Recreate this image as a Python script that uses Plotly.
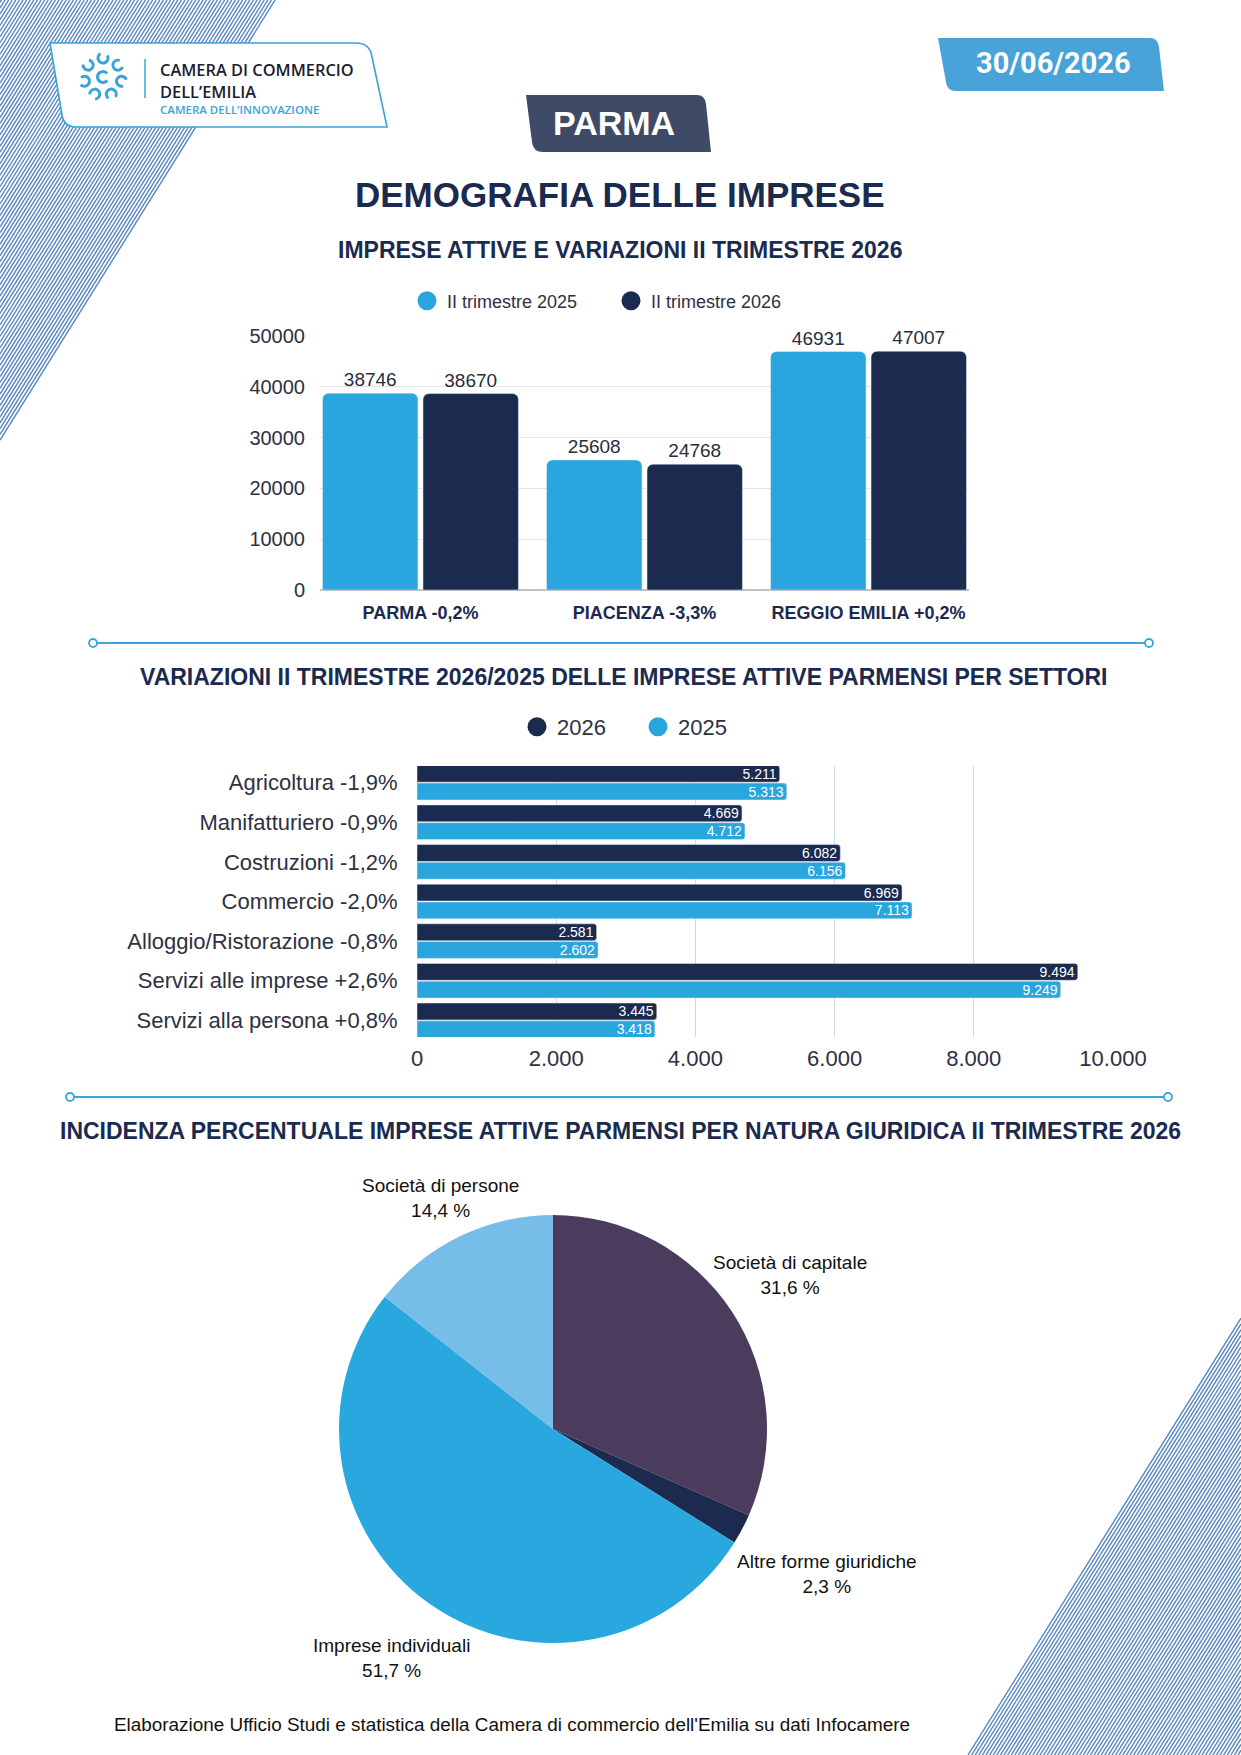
import math
import plotly.graph_objects as go

# page size in px (the figure is drawn on a fixed A4-like canvas)
W, H = 1241, 1755

# --- data ---
province_labels = ["PARMA -0,2%", "PIACENZA -3,3%", "REGGIO EMILIA +0,2%"]
imprese_2025 = [38746, 25608, 46931]
imprese_2026 = [38670, 24768, 47007]

settori = [
    "Agricoltura -1,9%",
    "Manifatturiero -0,9%",
    "Costruzioni -1,2%",
    "Commercio -2,0%",
    "Alloggio/Ristorazione -0,8%",
    "Servizi alle imprese +2,6%",
    "Servizi alla persona +0,8%",
]
settori_2026 = [5211, 4669, 6082, 6969, 2581, 9494, 3445]
settori_2025 = [5313, 4712, 6156, 7113, 2602, 9249, 3418]

forme = ["Società di capitale", "Altre forme giuridiche", "Imprese individuali", "Società di persone"]
quote = [31.6, 2.3, 51.7, 14.4]

# --- colours ---
LIGHT = "#29a6de"
DARK = "#1b2a4f"
NAVY_TXT = "#1b2a4f"
AXIS_TXT = "#2d3142"
ACCENT = "#3aa3d9"
FONT = "Liberation Sans, Arial, sans-serif"

# pie placement (px) and how far out each label sits (in radii)
PIE_CX, PIE_CY, PIE_R = 553, 1429, 214
label_dist = [1.32, 1.45, 1.31, 1.20]


def px(x):
    return x / W


def py(y):
    return 1 - y / H


def pt(x, y):
    return f"{px(x):.5f},{py(y):.5f}"


def arc(cx, cy, r, a0, a1):
    # cubic bezier approximation of a circular arc, angles in degrees
    n = max(1, math.ceil(abs(a1 - a0) / 90))
    step = (a1 - a0) / n
    out = f"M{pt(cx + r * math.cos(math.radians(a0)), cy + r * math.sin(math.radians(a0)))}"
    for i in range(n):
        t0 = math.radians(a0 + i * step)
        t1 = math.radians(a0 + (i + 1) * step)
        k = 4 / 3 * math.tan((t1 - t0) / 4) * r
        p0 = (cx + r * math.cos(t0), cy + r * math.sin(t0))
        p3 = (cx + r * math.cos(t1), cy + r * math.sin(t1))
        p1 = (p0[0] - k * math.sin(t0), p0[1] + k * math.cos(t0))
        p2 = (p3[0] + k * math.sin(t1), p3[1] - k * math.cos(t1))
        out += f"C{pt(*p1)} {pt(*p2)} {pt(*p3)}"
    return out


fig = go.Figure()

# --- chart 1: imprese attive ---
fig.add_trace(go.Bar(
    x=province_labels, y=imprese_2025, name="II trimestre 2025",
    marker=dict(color=LIGHT, cornerradius=6), showlegend=False,
    texttemplate="%{y:d}", textposition="outside",
    textfont=dict(size=19, color="#2a2d3a"), cliponaxis=False,
    xaxis="x", yaxis="y",
))
fig.add_trace(go.Bar(
    x=province_labels, y=imprese_2026, name="II trimestre 2026",
    marker=dict(color=DARK, cornerradius=6), showlegend=False,
    texttemplate="%{y:d}", textposition="outside",
    textfont=dict(size=19, color="#2a2d3a"), cliponaxis=False,
    xaxis="x", yaxis="y",
))
for name, col in [("II trimestre 2025", LIGHT), ("II trimestre 2026", DARK)]:
    fig.add_trace(go.Scatter(
        x=[None], y=[None], mode="markers", name=name,
        marker=dict(color=col, size=16, symbol="circle", line=dict(color=col, width=3)),
        xaxis="x", yaxis="y", legend="legend",
    ))

# --- chart 2: settori ---
fig.add_trace(go.Bar(
    y=settori, x=settori_2026, orientation="h", name="2026",
    marker=dict(color=DARK, cornerradius=3), showlegend=False,
    texttemplate="%{x:,d}", textposition="inside", insidetextanchor="end",
    textfont=dict(size=14, color="white"), constraintext="none",
    xaxis="x2", yaxis="y2",
))
fig.add_trace(go.Bar(
    y=settori, x=settori_2025, orientation="h", name="2025",
    marker=dict(color=LIGHT, cornerradius=3), showlegend=False,
    texttemplate="%{x:,d}", textposition="inside", insidetextanchor="end",
    textfont=dict(size=14, color="white"), constraintext="none",
    xaxis="x2", yaxis="y2",
))
for name, col in [("2026", DARK), ("2025", LIGHT)]:
    fig.add_trace(go.Scatter(
        x=[None], y=[None], mode="markers", name=name,
        marker=dict(color=col, size=16, symbol="circle", line=dict(color=col, width=3)),
        xaxis="x2", yaxis="y2", legend="legend2",
    ))

# --- chart 3: natura giuridica ---
fig.add_trace(go.Pie(
    labels=forme, values=quote, sort=False, direction="clockwise", rotation=0,
    marker=dict(colors=["#4b3c5e", "#1c2a50", "#29a7df", "#76bde8"]),
    textinfo="none", showlegend=False, hoverinfo="label+percent",
    domain=dict(x=[px(PIE_CX - PIE_R), px(PIE_CX + PIE_R)],
                y=[py(PIE_CY + PIE_R), py(PIE_CY - PIE_R)]),
))

# --- decorations ---
shapes = []
s = 1.6
tl = ""
c = 1.5
while c <= 276:
    tl += f"M{pt(c, 0)}L{pt(0, c * s)}"
    c += 3.6
br = ""
xb = 968.0
while xb <= 1241:
    br += f"M{pt(xb, H)}L{pt(1241, H - (1241 - xb) * s)}"
    xb += 3.6
for p in (tl, br):
    shapes.append(dict(type="path", path=p, xref="paper", yref="paper",
                       line=dict(color="#5585c2", width=1.4), layer="below"))

# logo box
logo = (f"M{pt(50, 43)}L{pt(356, 43)}Q{pt(370, 43)} {pt(372, 57)}"
        f"L{pt(387, 127)}L{pt(76, 127)}Q{pt(64, 127)} {pt(62, 115)}Z")
shapes.append(dict(type="path", path=logo, xref="paper", yref="paper",
                   fillcolor="white", line=dict(color=ACCENT, width=1.6)))
shapes.append(dict(type="line", xref="paper", yref="paper",
                   x0=px(145), x1=px(145), y0=py(59), y1=py(98),
                   line=dict(color=ACCENT, width=1.5)))
# logo icon: ring of hooks around a "C"
icx, icy = 103, 77
for k in range(7):
    a = -90 + k * 360 / 7
    hx = icx + 19 * math.cos(math.radians(a))
    hy = icy + 19 * math.sin(math.radians(a))
    shapes.append(dict(type="path", path=arc(hx, hy, 5, a + 60, a + 330),
                       xref="paper", yref="paper", line=dict(color=ACCENT, width=3)))
shapes.append(dict(type="path", path=arc(icx, icy, 5.5, 40, 320),
                   xref="paper", yref="paper", line=dict(color=ACCENT, width=3)))

# date box
date_box = (f"M{pt(938, 38)}L{pt(1150, 38)}Q{pt(1158, 38)} {pt(1159, 47)}"
            f"L{pt(1164, 91)}L{pt(956, 91)}Q{pt(947, 91)} {pt(946, 82)}Z")
shapes.append(dict(type="path", path=date_box, xref="paper", yref="paper",
                   fillcolor="#48a3d9", line=dict(width=0)))
# PARMA box
parma_box = (f"M{pt(526, 95)}L{pt(697, 95)}Q{pt(705, 95)} {pt(706, 104)}"
             f"L{pt(711, 152)}L{pt(543, 152)}Q{pt(533, 152)} {pt(532, 142)}Z")
shapes.append(dict(type="path", path=parma_box, xref="paper", yref="paper",
                   fillcolor="#3f4a66", line=dict(width=0)))

# separators
for x0, x1, yy in [(93, 1149, 643), (70, 1168, 1097)]:
    shapes.append(dict(type="line", xref="paper", yref="paper",
                       x0=px(x0), x1=px(x1), y0=py(yy), y1=py(yy),
                       line=dict(color=ACCENT, width=2)))
    for xx in (x0, x1):
        shapes.append(dict(type="circle", xref="paper", yref="paper",
                           x0=px(xx - 4), x1=px(xx + 4), y0=py(yy + 4), y1=py(yy - 4),
                           fillcolor="white", line=dict(color=ACCENT, width=1.8)))


# --- texts ---
def note(text, x, y, size, color, bold=False, family=FONT, xanchor="center", weight=None):
    return dict(text=text, x=px(x), y=py(y), xref="paper", yref="paper",
                xanchor=xanchor, yanchor="middle", showarrow=False,
                font=dict(size=size, color=color, family=family,
                          weight=weight if weight else ("bold" if bold else "normal")))


annotations = [
    note("CAMERA DI COMMERCIO", 158, 69.5, 16.4, "#1c1c30", family="Open Sans", xanchor="left", weight=600),
    note("DELL’EMILIA", 158, 91.5, 16.4, "#1c1c30", family="Open Sans", xanchor="left", weight=600),
    note("CAMERA DELL’INNOVAZIONE", 158, 109, 11.5, ACCENT, family="Open Sans", xanchor="left", weight=600),
    note("30/06/2026", 1053, 63, 29, "white", bold=True, family="Roboto"),
    note("PARMA", 614, 123, 34, "white", bold=True),
    note("DEMOGRAFIA DELLE IMPRESE", 620, 194, 35, NAVY_TXT, bold=True),
    note("IMPRESE ATTIVE E VARIAZIONI II TRIMESTRE 2026", 620, 250, 23, NAVY_TXT, bold=True),
    note("VARIAZIONI II TRIMESTRE 2026/2025 DELLE IMPRESE ATTIVE PARMENSI PER SETTORI",
         623, 677, 23, NAVY_TXT, bold=True),
    note("INCIDENZA PERCENTUALE IMPRESE ATTIVE PARMENSI PER NATURA GIURIDICA II TRIMESTRE 2026",
         620, 1131, 23, NAVY_TXT, bold=True),
    note("Elaborazione Ufficio Studi e statistica della Camera di commercio dell'Emilia su dati Infocamere",
         512, 1724, 18.9, "#111111"),
]

# pie labels: outside each slice, along its middle angle
start = 0.0
total = sum(quote)
for lab, v, f in zip(forme, quote, label_dist):
    mid = math.radians((start + v / 2) / total * 360)
    start += v
    lx = PIE_CX + f * PIE_R * math.sin(mid)
    ly = PIE_CY - f * PIE_R * math.cos(mid)
    annotations.append(note(f"{lab}<br>{v:.1f} %".replace(".", ","), lx, ly, 19, "#111111"))

fig.update_layout(
    width=W, height=H,
    margin=dict(l=0, r=0, t=0, b=0, autoexpand=False),
    paper_bgcolor="white", plot_bgcolor="white",
    font=dict(family=FONT, color=AXIS_TXT),
    separators=",.",
    barmode="group", bargap=0.103, bargroupgap=0.05,
    xaxis=dict(domain=[px(320), px(969)], range=[-0.4485, 2.4485], anchor="y",
               tickfont=dict(size=18, color=NAVY_TXT, weight="bold"),
               ticks="outside", ticklen=6, tickcolor="rgba(0,0,0,0)",
               showgrid=False, showline=False, automargin=False),
    yaxis=dict(domain=[py(590), py(336)], range=[0, 50000], dtick=10000, tickformat="d",
               anchor="x", tickfont=dict(size=20, color=AXIS_TXT),
               ticks="outside", ticklen=10, tickcolor="rgba(0,0,0,0)",
               gridcolor="#e3e3e8", gridwidth=1.2, zeroline=True,
               zerolinecolor="#bfc0c8", zerolinewidth=1.5, showline=False, automargin=False),
    xaxis2=dict(domain=[px(417), px(1113)], range=[0, 10000], dtick=2000, tickformat=",d",
                anchor="y2", tickfont=dict(size=22, color=AXIS_TXT),
                ticks="outside", ticklen=2, tickcolor="rgba(0,0,0,0)",
                gridcolor="#d5d7e0", zeroline=False, showline=False, automargin=False),
    yaxis2=dict(domain=[py(1037), py(766)], range=[6.42, -0.42], anchor="x2",
                categoryorder="array", categoryarray=settori,
                tickfont=dict(size=22, color=AXIS_TXT),
                ticks="outside", ticklen=14, tickcolor="rgba(0,0,0,0)",
                showgrid=False, showline=False, automargin=False),
    legend=dict(orientation="h", x=px(407), xanchor="left", y=py(301), yanchor="middle",
                entrywidth=159, font=dict(size=18, color=AXIS_TXT), bgcolor="rgba(0,0,0,0)"),
    legend2=dict(orientation="h", x=px(517), xanchor="left", y=py(727), yanchor="middle",
                 entrywidth=76, font=dict(size=22, color=AXIS_TXT), bgcolor="rgba(0,0,0,0)"),
    shapes=shapes,
    annotations=annotations,
)

# the page body has a default 8px margin: drop it so the figure sits at the window corner
fig.write_html("out.html", config={"displayModeBar": False},
               post_script="document.body.style.margin='0px';")
